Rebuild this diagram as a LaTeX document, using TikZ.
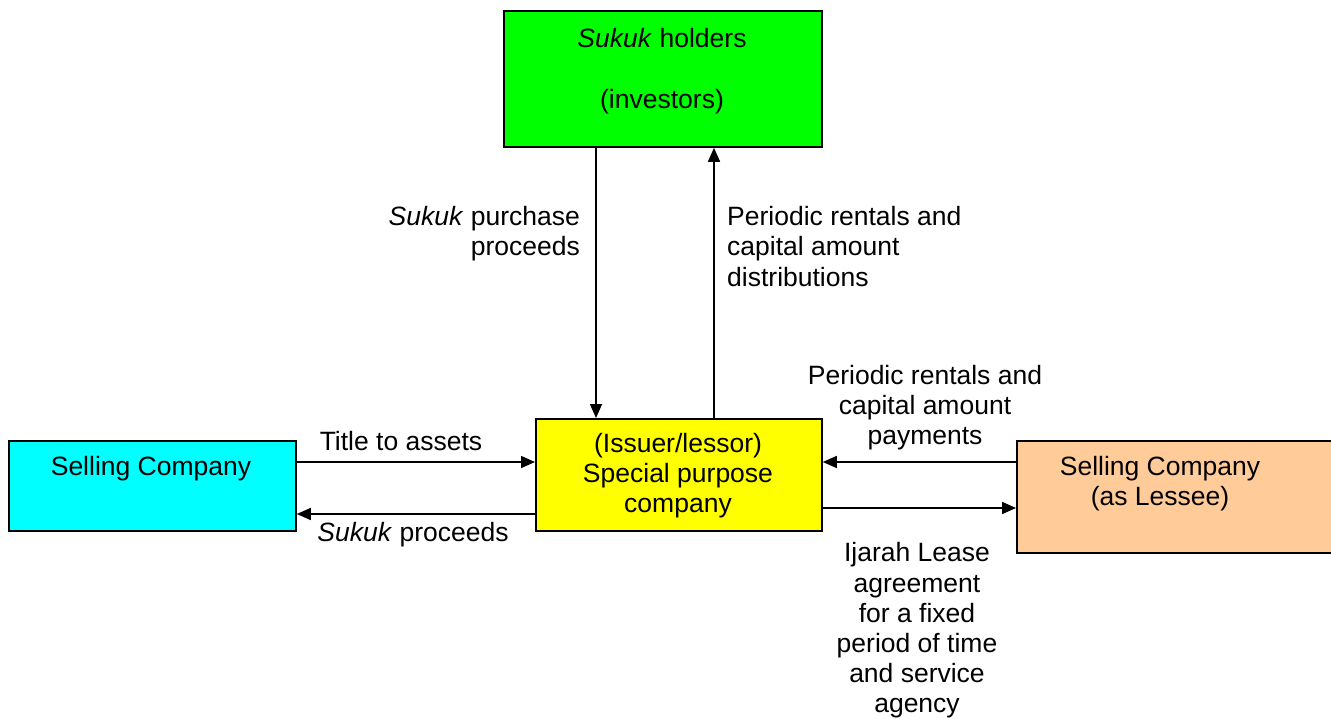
\documentclass[tikz,border=0pt]{standalone}
\usepackage{fontspec}
\setmainfont{Liberation Sans}
\usetikzlibrary{positioning,arrows.meta}
\definecolor{holdergreen}{RGB}{0,255,0}
\definecolor{sellercyan}{RGB}{0,255,255}
\definecolor{spcyellow}{RGB}{255,255,0}
\definecolor{lesseetan}{RGB}{255,204,153}

\begin{document}
\begin{tikzpicture}[
    x=1pt,y=-1pt,font=\fontsize{26.5}{30.2}\selectfont,
    party/.style={draw=black,line width=1.8pt,align=center,inner sep=0pt,
      anchor=north west},
    flow/.style={-{Triangle[length=14pt,width=12pt]},line width=1.6pt},
    lbl/.style={align=center,inner sep=0pt,yshift=-2.5pt}
]
\useasboundingbox (0,0) rectangle (1331,719);

% parties
\node[party,fill=holdergreen,minimum width=318pt,minimum height=136pt] (holders)
  at (503,10) {};
\node[lbl] at (662,36) {\textit{Sukuk} holders};
\node[lbl] at (662,99) {(investors)};
\node[party,fill=sellercyan,minimum width=287pt,minimum height=90pt] (seller)
  at (8,440) {};
\node[lbl] at (151,466) {Selling Company};
\node[party,fill=spcyellow,minimum width=286pt,minimum height=112pt] (spc)
  at (535,418) {};
\node[lbl] at (678,473) {(Issuer/lessor)\\Special purpose\\company};
\node[party,fill=lesseetan,minimum width=330pt,minimum height=112pt] (lessee)
  at (1016,440) {};
\node[lbl] at (1160,481) {Selling Company\\(as Lessee)};

% connectors
\draw[flow] (holders.south west -| 596,0) -- (spc.north west -| 596,0);
\draw[flow] (spc.north west -| 714,0) -- (holders.south west -| 714,0);
\draw[flow] (seller.east |- 0,462) -- (spc.west |- 0,462);
\draw[flow] (spc.west |- 0,514) -- (seller.east |- 0,514);
\draw[flow] (lessee.west |- 0,462) -- (spc.east |- 0,462);
\draw[flow] (spc.east |- 0,508) -- (lessee.west |- 0,508);

% labels
\node[lbl,align=right,anchor=east] at (580,231) {\textit{Sukuk} purchase\\proceeds};
\node[lbl,align=left,anchor=west] at (727,244) {Periodic rentals and\\capital amount\\distributions};
\node[lbl] at (401,439) {Title to assets};
\node[lbl] at (413,532) {\textit{Sukuk} proceeds};
\node[lbl] at (925,405) {Periodic rentals and\\capital amount\\payments};
\node[lbl] at (917,628) {Ijarah Lease\\agreement\\for a fixed\\period of time\\and service\\agency};
\end{tikzpicture}
\end{document}
